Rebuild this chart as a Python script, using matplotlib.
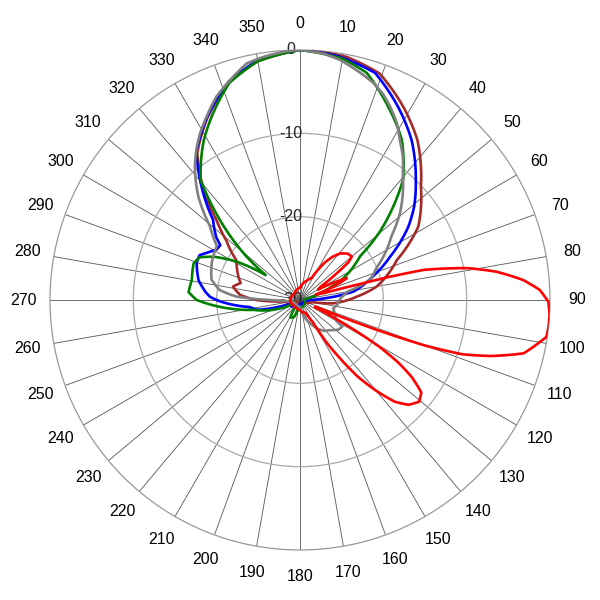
import numpy as np
import matplotlib.pyplot as plt

plt.rcParams['font.family'] = ['Liberation Sans', 'DejaVu Sans']

# pattern values in dB (angle in degrees, clockwise from north)
gray_ang = [0, 5.4, 9.5, 13.8, 18.7, 22.1, 25, 28.7, 32, 35.6, 39, 43.9, 49, 55, 60, 67, 74, 80,
            86, 92, 98, 104, 112, 120, 122, 128, 135, 142, 149, 155, 162, 170, 185, 220, 250, 262,
            268, 270, 273, 277, 283, 293, 303, 306.1, 309.2, 311.9, 315.5, 318.8, 321.8, 325.4,
            329, 333, 337.7, 342.4, 347.3, 351.4, 357, 360]
gray_db = [0, -0.3, -0.8, -1.6, -2.5, -3.4, -4.4, -5.8, -7.4, -8.8, -10.4, -12.2, -14.1, -16.6,
           -18.0, -20.0, -21.3, -24.2, -25.0, -25.4, -25.5, -25.9, -25.5, -25.0, -24.0, -24.2,
           -24.9, -25.3, -26.0, -26.8, -27.5, -28.5, -29.2, -29.3, -29.2, -28.8, -28.0, -26.4,
           -22.4, -20.3, -19.1, -18.5, -18.1, -17.1, -16.1, -14.6, -12.6, -11.0, -9.6, -8.1, -6.7,
           -5.3, -3.6, -2.3, -0.9, -0.5, -0.1, 0]

blue_ang = [0, 9, 18.3, 26.9, 34.9, 44, 50.7, 55.9, 64.3, 72, 81, 86, 90, 100, 180, 250, 257,
            262, 265, 269, 272, 275, 281, 290, 294, 297, 301, 304.5, 307, 312.7, 319, 325, 333,
            342, 350, 360]
blue_db = [0, -0.4, -1.3, -4.0, -6.6, -10.0, -12.3, -14.3, -18.0, -20.8, -23.5, -27.0, -28.8,
           -29.5, -29.5, -28.5, -24.8, -23.9, -22.4, -20.4, -19.2, -18.6, -17.6, -16.8, -16.8,
           -17.5, -18.3, -18.4, -17.4, -15.8, -12.0, -8.3, -5.4, -2.4, -0.8, 0]

brown_ang = [0, 10.9, 19.4, 28.1, 36.3, 46.8, 58.2, 67.5, 80.2, 86.7, 95.7, 100, 120, 250, 265,
             270, 274.8, 281.3, 286, 290.7, 296, 302, 309, 313.8, 319, 325, 333, 342, 350, 360]
brown_db = [0, -0.3, -1.2, -3.7, -6.2, -10.1, -13.3, -17.4, -20.7, -23.2, -26.0, -28.5, -29.5, -29.5,
            -28.0, -24.8, -22.8, -21.8, -22.6, -22.1, -21.6, -21.0, -18.6, -16.1, -12.3, -8.5, -5.5,
            -2.5, -0.9, 0]

green_ang = [0, 10, 16.4, 24.5, 32.4, 40.6, 45, 49.6, 54, 63.4, 70, 80, 190, 200, 209, 215, 240,
             247, 258, 265, 270, 274, 280.5, 289, 293, 296.6, 301.2, 306, 309, 315, 320.4, 329,
             335, 342, 350, 360]
green_db = [0, -0.6, -1.6, -4.5, -7.2, -11.0, -14.2, -17.5, -21.1, -24.2, -27.0, -29.5, -29.0, -27.8,
            -27.6, -29.0, -29.3, -27.4, -24.3, -20.4, -17.6, -16.6, -16.8, -16.5, -16.9, -18.4,
            -21.1, -24.9, -21.8, -16.4, -11.3, -7.6, -5.3, -2.6, -0.9, 0]

red_ang = [0, 10, 20, 28, 33, 37, 41, 46, 50, 52, 54, 57, 60, 65, 68, 71, 74, 75, 75.5, 76.3, 79.2,
           81.8, 84.9, 87.6, 90.4, 93.4, 96, 98.5, 100.4, 103.4, 106.4, 108.5, 110, 111, 112, 113,
           116, 118, 120.5, 122.5, 124.6, 127.3, 130.5, 134, 137, 140, 143, 145.5, 148, 150, 155,
           163, 170, 180, 220, 270, 320, 360]
red_db = [-28.5, -28.0, -27.5, -27.0, -24.8, -23.5, -22.6, -22.0, -21.9, -22.6, -24.6, -27.0, -27.5,
          -23.8, -25.5, -28.0, -27.0, -23.0, -18.8, -14.8, -9.6, -6.2, -3.1, -1.2, -0.2, 0, 0, -0.1,
          -1.0, -2.4, -6.2, -9.5, -14.0, -19.0, -24.0, -28.0, -28.0, -24.5, -19.0, -16.0, -13.7,
          -11.7, -11.2, -11.9, -13.3, -15.8, -18.5, -21.5, -24.0, -27.0, -28.2, -28.5, -28.5,
          -28.8, -29.0, -28.8, -29.0, -28.5]

angle_labels = [str(a) for a in range(0, 360, 10)]
ring_values = [0, -10, -20, -30]

fig = plt.figure(figsize=(6, 6), dpi=100)
ax = fig.add_axes([50 / 600, 50 / 600, 500 / 600, 500 / 600], projection='polar')
ax.set_theta_zero_location('N')
ax.set_theta_direction(-1)
ax.set_ylim(-30, 0)

ax.set_xticks(np.deg2rad(np.arange(0, 360, 10)))
ax.set_xticklabels([])
ax.set_yticks([-20, -10])
ax.set_yticklabels([])
ax.xaxis.grid(True, color='#555555', lw=0.6)
ax.yaxis.grid(True, color='#aaaaaa', lw=0.9)
ax.spines['polar'].set_color('#999999')
ax.spines['polar'].set_linewidth(0.9)
ax.tick_params(length=0)

series = [(brown_ang, brown_db, '#a52a2a', 3),
          (blue_ang, blue_db, '#0000ff', 3),
          (green_ang, green_db, '#008000', 4),
          (gray_ang, gray_db, '#808080', 5),
          (red_ang, red_db, '#ff0000', 6)]
for ang, db, col, z in series:
    line, = ax.plot(np.deg2rad(ang), db, color=col, lw=1.9, zorder=z,
                    solid_joinstyle='round')
    # draw segments as arcs in polar space rather than chords
    line.get_path()._interpolation_steps = 16

# angle labels outside the ring
for a, lab in zip(range(0, 360, 10), angle_labels):
    ax.text(np.deg2rad(a), 3.2, lab, ha='center', va='center', fontsize=11.5,
            color='black', clip_on=False)

# dB labels along the 0 degree spoke
for v in ring_values:
    ax.annotate(str(v), xy=(0, v), xytext=(-9, 0), textcoords='offset pixels',
                ha='center', va='center', fontsize=11.5, color='#222222', zorder=2)

fig.savefig('out.png', dpi=100)
